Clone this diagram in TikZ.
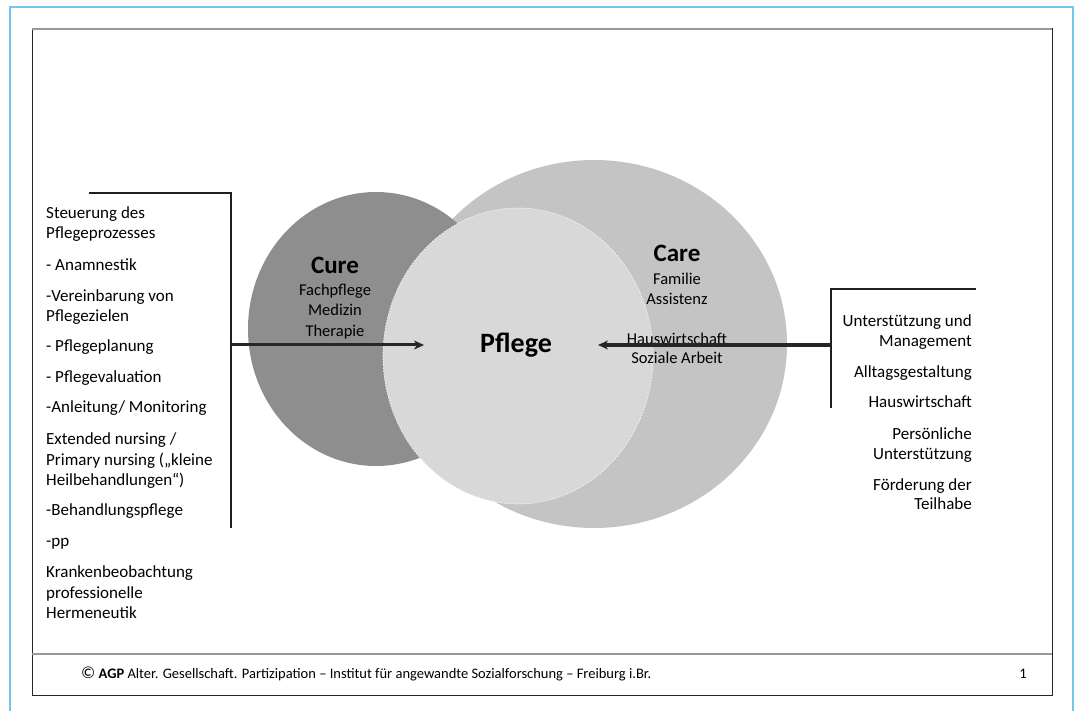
\documentclass[tikz,border=0pt]{standalone}
\usepackage{fontspec}
\setmainfont{Carlito}
\usetikzlibrary{arrows.meta}
\tikzset{
  lt/.style={inner sep=0pt, font=\fontsize{17}{20}\selectfont, anchor=base west},
  rt/.style={inner sep=0pt, font=\fontsize{17}{20}\selectfont, anchor=base east},
  ct/.style={inner sep=0pt, font=\fontsize{16.5}{20}\selectfont, anchor=base},
  ttl/.style={inner sep=0pt, font=\fontsize{25}{28}\selectfont\bfseries, anchor=base},
  brk/.style={line width=2pt, draw=black!88},
  arr/.style={line width=3pt, draw=black!85, -{Stealth[length=10pt,width=9pt,inset=3pt]}},
}
\definecolor{curegray}{HTML}{8E8E8E}
\definecolor{caregray}{HTML}{C4C4C4}
\definecolor{pflgray}{HTML}{D8D8D8}
\definecolor{frameblue}{HTML}{70C8EE}
\begin{document}
\begin{tikzpicture}[x=1pt,y=-1pt]
\useasboundingbox (0,0) rectangle (1077,711);
% outer blue frame
\draw[frameblue, line width=2pt] (10,711) -- (10,7) -- (1073,7) -- (1073,711);
% inner frame
\draw[black!85, line width=1pt] (32,29) rectangle (1052,695);
\draw[black!40, line width=2pt] (32,29) -- (1052,29);
\draw[black!40, line width=2pt] (32,654) -- (1052,654);
% circles
\fill[caregray] (594,344) ellipse [x radius=193, y radius=184];
\fill[curegray] (376,329) ellipse [x radius=128, y radius=137];
\fill[pflgray] (518,356) ellipse [x radius=135, y radius=148];
\draw[white, line width=0.6pt, dash pattern=on 1.5pt off 1.5pt] (518,356) ellipse [x radius=135, y radius=148];
% circle labels
\node[ttl] (cure) at (335,274) {Cure};
\node[ct] (c1) at (335,296) {Fachpflege};
\node[ct] (c2) at (335,316) {Medizin};
\node[ct] (c3) at (335,337) {Therapie};
\node[ttl] (care) at (677,262) {Care};
\node[ct] (a1) at (677,285) {Familie};
\node[ct] (a2) at (677,305) {Assistenz};
\node[ct] (a3) at (677,345) {Hauswirtschaft};
\node[ct] (a4) at (677,364) {Soziale Arbeit};
\node[inner sep=0pt, font=\fontsize{28}{32}\selectfont\bfseries, anchor=base] (pflege) at (516,353) {Pflege};
% left bracket and arrow
\coordinate (lb1) at (89,193);
\coordinate (lb2) at (231,193);
\coordinate (lb3) at (231,528);
\coordinate (lm) at (231,345);
\coordinate (ltip) at (424,345);
\draw[brk] (lb1) -- (lb2) -- (lb3);
\draw[arr] (lm) -- (ltip);
% right bracket and arrow
\coordinate (rb1) at (976,289);
\coordinate (rb2) at (831,289);
\coordinate (rb3) at (831,408);
\coordinate (rm) at (831,345);
\coordinate (rtip) at (598,345);
\draw[brk] (rb1) -- (rb2) -- (rb3);
\draw[arr, line width=4pt] (rm) -- (rtip);
% left list
\node[lt] (l1) at (46,219) {Steuerung des};
\node[lt] (l2) at (46,239) {Pflegeprozesses};
\node[lt] (l3) at (46,271) {- Anamnestik};
\node[lt] (l4) at (46,302) {-Vereinbarung von};
\node[lt] (l5) at (46,322) {Pflegezielen};
\node[lt] (l6) at (46,352) {- Pflegeplanung};
\node[lt] (l7) at (46,383) {- Pflegevaluation};
\node[lt] (l8) at (46,413) {-Anleitung/ Monitoring};
\node[lt] (l9) at (46,444) {Extended nursing /};
\node[lt] (l10) at (46,465) {Primary nursing („kleine};
\node[lt] (l11) at (46,485) {Heilbehandlungen“)};
\node[lt] (l12) at (46,515) {-Behandlungspflege};
\node[lt] (l13) at (46,546) {-pp};
\node[lt] (l14) at (46,577) {Krankenbeobachtung};
\node[lt] (l15) at (46,598) {professionelle};
\node[lt] (l16) at (46,618) {Hermeneutik};
% right list
\node[rt] (r1) at (972,327) {Unterstützung und};
\node[rt] (r2) at (972,347) {Management};
\node[rt] (r3) at (972,378) {Alltagsgestaltung};
\node[rt] (r4) at (972,408) {Hauswirtschaft};
\node[rt] (r5) at (972,439) {Persönliche};
\node[rt] (r6) at (972,459) {Unterstützung};
\node[rt] (r7) at (972,490) {Förderung der};
\node[rt] (r8) at (972,509) {Teilhabe};
% footer
\node[inner sep=0pt, anchor=base west, font=\fontsize{14.5}{16}\selectfont] (foot) at (81,678)
  {{\fontsize{17}{17}\selectfont\textcopyright}\ \textbf{AGP} Alter. Gesellschaft. Partizipation – Institut für angewandte Sozialforschung – Freiburg i.Br.};
\node[inner sep=0pt, anchor=base, font=\fontsize{14.5}{16}\selectfont] (pnum) at (1023,678) {1};
\end{tikzpicture}
\end{document}
